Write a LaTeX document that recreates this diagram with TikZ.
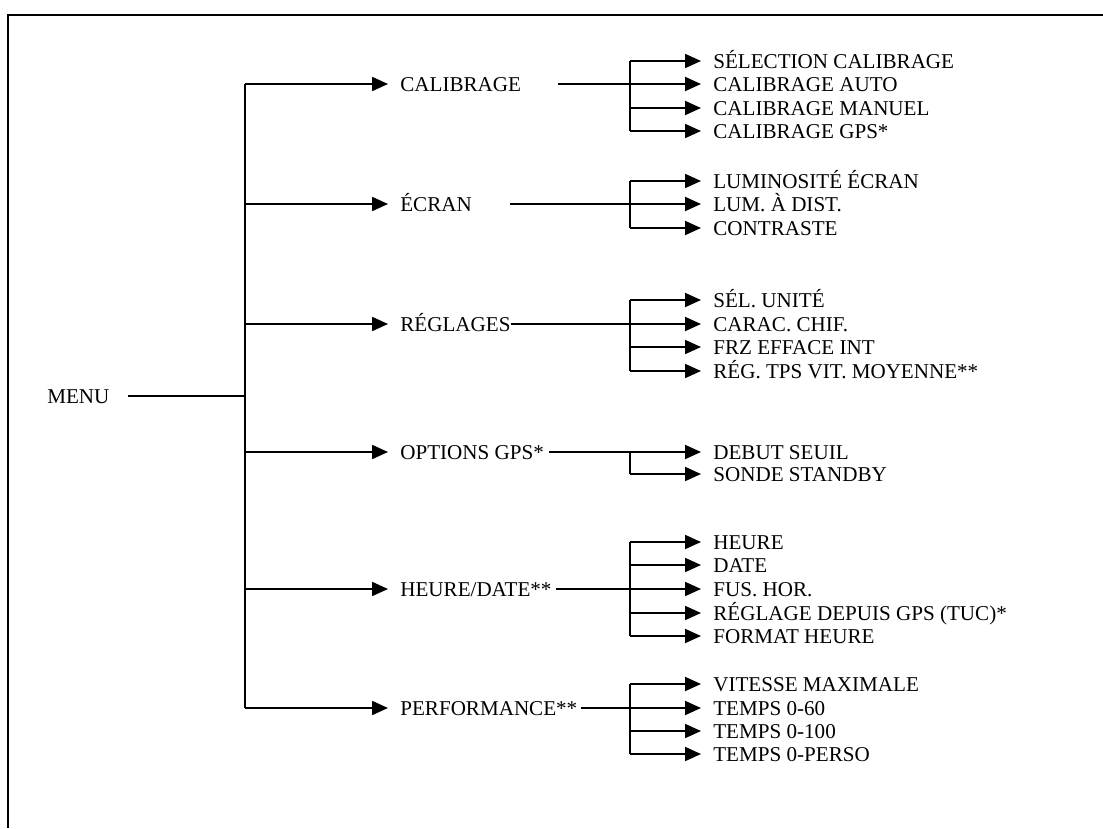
\documentclass[tikz,border=0pt]{standalone}
\usepackage{fontspec}
\setmainfont{Liberation Serif}
\usetikzlibrary{arrows.meta}

\tikzset{
    entry/.style={anchor=west, inner sep=0pt, text height=8.2pt, text depth=0pt,
        font=\fontsize{12}{14}\selectfont},
    link/.style={line width=0.4mm},
    tolink/.style={link, -{Triangle[length=3.2mm,width=2.8mm]}, shorten >=2.4mm},
}

\begin{document}
\begin{tikzpicture}[x=0.2mm, y=-0.2mm]
    \useasboundingbox (0,0) rectangle (1103,828);
    % frame
    \draw [link] (1103,15) -- (8,15) -- (8,828);
    % where the vertical lines run
    \coordinate (trunk) at (245,0);
    \coordinate (bus) at (630,0);
    % menu and its entries
    \node [entry] (menu) at (47,396) {MENU};
    \node [entry] (calib) at (400,84) {CALIBRAGE};
    \node [entry] (ecran) at (400,204) {ÉCRAN};
    \node [entry] (regl) at (400,324) {RÉGLAGES};
    \node [entry] (optgps) at (400,452) {OPTIONS GPS*};
    \node [entry] (heure) at (400,589) {HEURE/DATE**};
    \node [entry] (perf) at (400,708) {PERFORMANCE**};
    \draw [link] ([xshift=3.6mm]menu.east) -- (menu.east -| trunk);
    \draw [link] (calib.west -| trunk) -- (perf.west -| trunk);
    \draw [tolink] (calib.west -| trunk) -- (calib);
    \draw [tolink] (ecran.west -| trunk) -- (ecran);
    \draw [tolink] (regl.west -| trunk) -- (regl);
    \draw [tolink] (optgps.west -| trunk) -- (optgps);
    \draw [tolink] (heure.west -| trunk) -- (heure);
    \draw [tolink] (perf.west -| trunk) -- (perf);
    % calibrage
    \node [entry] (calib1) at (713,61) {SÉLECTION CALIBRAGE};
    \node [entry] (calib2) at (713,84) {CALIBRAGE AUTO};
    \node [entry] (calib3) at (713,108) {CALIBRAGE MANUEL};
    \node [entry] (calib4) at (713,131) {CALIBRAGE GPS*};
    \draw [tolink] ([xshift=7.4mm]calib.east) -- (calib2);
    \draw [link] (calib1.west -| bus) -- (calib4.west -| bus);
    \draw [tolink] (calib1.west -| bus) -- (calib1);
    \draw [tolink] (calib3.west -| bus) -- (calib3);
    \draw [tolink] (calib4.west -| bus) -- (calib4);
    % ecran
    \node [entry] (ecran1) at (713,181) {LUMINOSITÉ ÉCRAN};
    \node [entry] (ecran2) at (713,204) {LUM. À DIST.};
    \node [entry] (ecran3) at (713,228) {CONTRASTE};
    \draw [tolink] ([xshift=7.6mm]ecran.east) -- (ecran2);
    \draw [link] (ecran1.west -| bus) -- (ecran3.west -| bus);
    \draw [tolink] (ecran1.west -| bus) -- (ecran1);
    \draw [tolink] (ecran3.west -| bus) -- (ecran3);
    % reglages
    \node [entry] (regl1) at (713,300) {SÉL. UNITÉ};
    \node [entry] (regl2) at (713,324) {CARAC. CHIF.};
    \node [entry] (regl3) at (713,347) {FRZ EFFACE INT};
    \node [entry] (regl4) at (713,371) {RÉG. TPS VIT. MOYENNE**};
    \draw [tolink] (regl.east) -- (regl2);
    \draw [link] (regl1.west -| bus) -- (regl4.west -| bus);
    \draw [tolink] (regl1.west -| bus) -- (regl1);
    \draw [tolink] (regl3.west -| bus) -- (regl3);
    \draw [tolink] (regl4.west -| bus) -- (regl4);
    % options gps
    \node [entry] (optgps1) at (713,452) {DEBUT SEUIL};
    \node [entry] (optgps2) at (713,474) {SONDE STANDBY};
    \draw [tolink] ([xshift=1mm]optgps.east) -- (optgps1);
    \draw [link] (optgps1.west -| bus) -- (optgps2.west -| bus);
    \draw [tolink] (optgps2.west -| bus) -- (optgps2);
    % heure/date
    \node [entry] (heure1) at (713,542) {HEURE};
    \node [entry] (heure2) at (713,565) {DATE};
    \node [entry] (heure3) at (713,589) {FUS. HOR.};
    \node [entry] (heure4) at (713,613) {RÉGLAGE DEPUIS GPS (TUC)*};
    \node [entry] (heure5) at (713,636) {FORMAT HEURE};
    \draw [tolink] ([xshift=0.8mm]heure.east) -- (heure3);
    \draw [link] (heure1.west -| bus) -- (heure5.west -| bus);
    \draw [tolink] (heure1.west -| bus) -- (heure1);
    \draw [tolink] (heure2.west -| bus) -- (heure2);
    \draw [tolink] (heure4.west -| bus) -- (heure4);
    \draw [tolink] (heure5.west -| bus) -- (heure5);
    % performance
    \node [entry] (perf1) at (713,684) {VITESSE MAXIMALE};
    \node [entry] (perf2) at (713,708) {TEMPS 0-60};
    \node [entry] (perf3) at (713,731) {TEMPS 0-100};
    \node [entry] (perf4) at (713,754) {TEMPS 0-PERSO};
    \draw [tolink] ([xshift=0.6mm]perf.east) -- (perf2);
    \draw [link] (perf1.west -| bus) -- (perf4.west -| bus);
    \draw [tolink] (perf1.west -| bus) -- (perf1);
    \draw [tolink] (perf3.west -| bus) -- (perf3);
    \draw [tolink] (perf4.west -| bus) -- (perf4);
\end{tikzpicture}
\end{document}
